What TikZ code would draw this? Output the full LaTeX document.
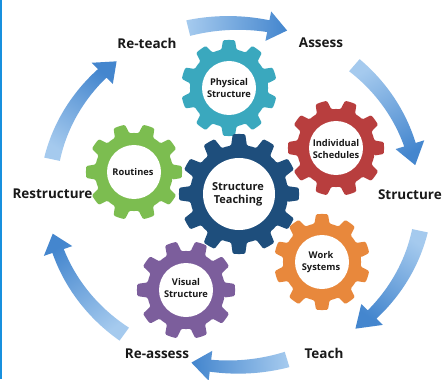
\documentclass[tikz,border=0pt]{standalone}
\usepackage{fontspec}
\setmainfont{Open Sans}
\definecolor{cStruct}{RGB}{30,78,124}
\definecolor{cTeal}{RGB}{58,168,190}
\definecolor{cRed}{RGB}{184,62,62}
\definecolor{cGreen}{RGB}{124,189,80}
\definecolor{cOrange}{RGB}{232,136,60}
\definecolor{cPurple}{RGB}{124,94,156}
\definecolor{arrowlight}{RGB}{165,202,238}
\definecolor{arrowdark}{RGB}{68,134,206}
\definecolor{edgeblue}{RGB}{24,144,222}
\definecolor{txt}{RGB}{25,25,25}
\tikzset{
  lbl/.style={font=\fontsize{13.5}{16}\selectfont\bfseries, text=txt, inner sep=0pt},
  geartext/.style={font=\fontsize{9.3}{11.7}\selectfont\bfseries, text=txt, align=center, inner sep=0pt},
  bigtext/.style={font=\fontsize{11}{13.3}\selectfont\bfseries, text=txt, align=center, inner sep=0pt},
}
% gear: x, y(px, down), teeth, root r, outer R, hole, phase, colour
\newcommand\mygear[8]{%
 \begin{scope}[shift={(#1,-#2)}]
 \pgfmathsetmacro\gs{360/#3}
 \fill[#8, rounded corners=1.2pt] ({#7-0.31*\gs}:#4)
   \foreach \i in {1,...,#3}{
     -- ({#7+(\i-1)*\gs-0.2*\gs}:#5)
     arc[start angle={#7+(\i-1)*\gs-0.2*\gs}, delta angle={0.4*\gs}, radius=#5]
     -- ({#7+(\i-1)*\gs+0.31*\gs}:#4)
     arc[start angle={#7+(\i-1)*\gs+0.31*\gs}, delta angle={0.38*\gs}, radius=#4]
   } -- cycle;
 \fill[white] (0,0) circle[radius=#6];
 \end{scope}}
\def\cx{233}\def\cy{-195}\def\rx{185}\def\ry{172}\def\hh{15}
% cycle arrow: tail angle, head-base angle, tip angle, dx, dy
\newcommand\carrow[5]{%
 \pgfmathsetmacro\xT{\cx+#4+\rx*cos(#1)}\pgfmathsetmacro\yT{\cy+#5+\ry*sin(#1)}%
 \pgfmathsetmacro\xH{\cx+#4+\rx*cos(#3)}\pgfmathsetmacro\yH{\cy+#5+\ry*sin(#3)}%
 \pgfmathsetmacro\sang{atan2(\yT-\yH,\xT-\xH)-90}%
 \shade[left color=arrowlight, right color=arrowdark, shading angle=\sang]
   plot[domain=#1:#2, samples=30] ({\cx+#4+(\rx+8-2*(\x-(#1))/((#2)-(#1)))*cos(\x)}, {\cy+#5+(\ry+8-2*(\x-(#1))/((#2)-(#1)))*sin(\x)})
   -- ({\cx+#4+(\rx+\hh)*cos(#2)}, {\cy+#5+(\ry+\hh)*sin(#2)})
   -- ({\cx+#4+\rx*cos(#3)}, {\cy+#5+\ry*sin(#3)})
   -- ({\cx+#4+(\rx-\hh)*cos(#2)}, {\cy+#5+(\ry-\hh)*sin(#2)})
   -- plot[domain=#2:#1, samples=30] ({\cx+#4+(\rx-8+2*(\x-(#1))/((#2)-(#1)))*cos(\x)}, {\cy+#5+(\ry-8+2*(\x-(#1))/((#2)-(#1)))*sin(\x)})
   -- cycle;}
\begin{document}
\begin{tikzpicture}[x=1pt,y=1pt]
\useasboundingbox (0,0) rectangle (443,-379);
\fill[white] (0,0) rectangle (443,-379);
\fill[edgeblue] (0,0) rectangle (2,-379);
% cycle arrows
\carrow{104}{79}{73}{0}{0}
\carrow{49}{17}{10}{0}{0}
\carrow{-12}{-44}{-51}{6}{0}
\carrow{-73}{-97}{-103}{0}{0}
\carrow{-126}{-161}{-167}{0}{0}
\carrow{168}{135}{129}{0}{0}
% gears
\mygear{229}{88}{10}{39}{48}{27}{18}{cTeal}
\mygear{336}{148}{10}{39}{48}{27}{0}{cRed}
\mygear{134}{172}{10}{39}{48}{27}{0}{cGreen}
\mygear{322}{262}{10}{39}{48}{27}{18}{cOrange}
\mygear{186}{290}{10}{39}{49}{27}{0}{cPurple}
\mygear{239}{194}{12}{49}{60}{36}{0}{cStruct}
% gear texts
\node[geartext] (phys) at (229,-88) {Physical\\Structure};
\node[geartext] (indiv) at (336,-149) {Individual\\Schedules};
\node[geartext] (rout) at (133,-172) {Routines};
\node[geartext] (work) at (321,-262) {Work\\Systems};
\node[geartext] (vis) at (186,-288) {Visual\\Structure};
\node[bigtext] (center) at (238,-194) {Structure\\Teaching};
% cycle labels
\node[lbl] (reteach) at (147,-43) {Re-teach};
\node[lbl] (assess) at (321,-43) {Assess};
\node[lbl, anchor=east] (structure) at (442,-195) {Structure};
\node[lbl] (teach) at (324,-353) {Teach};
\node[lbl] (reassess) at (157,-354) {Re-assess};
\node[lbl] (restructure) at (52.5,-194) {Restructure};
\end{tikzpicture}
\end{document}
